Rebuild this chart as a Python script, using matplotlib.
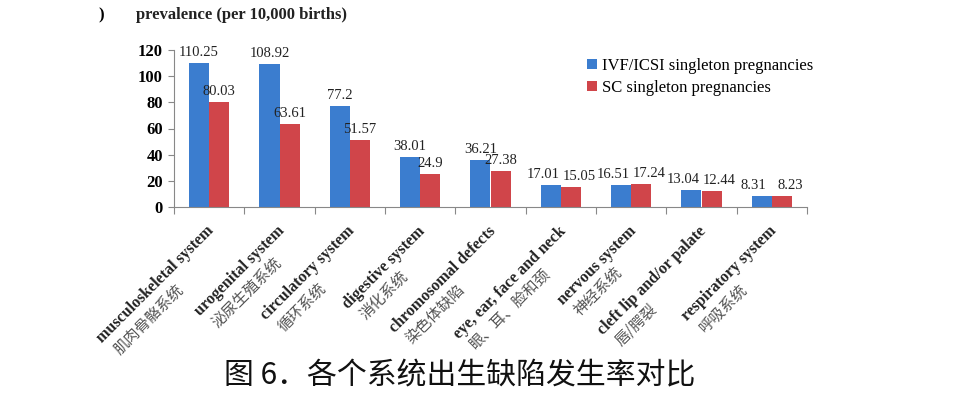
import matplotlib
matplotlib.use('Agg')
import matplotlib.pyplot as plt
import numpy as np

### 数据
cats_en = ['musculoskeletal system', 'urogenital system', 'circulatory system',
           'digestive system', 'chromosomal defects', 'eye, ear, face and neck',
           'nervous system', 'cleft lip and/or palate', 'respiratory system']
cats_cn = ['肌肉骨骼系统', '泌尿生殖系统', '循环系统', '消化系统', '染色体缺陷',
           '眼、耳、脸和颈', '神经系统', '唇/腭裂', '呼吸系统']
ivf = [110.25, 108.92, 77.2, 38.01, 36.21, 17.01, 16.51, 13.04, 8.31]
sc = [80.03, 63.61, 51.57, 24.9, 27.38, 15.05, 17.24, 12.44, 8.23]
ivf_lbl = ['110.25', '108.92', '77.2', '38.01', '36.21', '17.01', '16.51', '13.04', '8.31']
sc_lbl = ['80.03', '63.61', '51.57', '24.9', '27.38', '15.05', '17.24', '12.44', '8.23']
yticks = [0, 20, 40, 60, 80, 100, 120]

serif = 'Liberation Serif'
cjk = ['Noto Sans CJK SC', 'DejaVu Sans']
blue = '#3b7dcf'
red = '#d0454a'

fig = plt.figure(figsize=(9.58, 3.96), dpi=100)
ax = fig.add_axes([174 / 958, 189 / 396, 633 / 958, 157 / 396])

x = np.arange(len(cats_en))
w = 0.285
ax.bar(x - w / 2, ivf, w, color=blue, label='IVF/ICSI singleton pregnancies')
ax.bar(x + w / 2, sc, w, color=red, label='SC singleton pregnancies')

for i in range(len(x)):                          # 数值标签, 两值接近时向外错开
    dx = 8 if abs(ivf[i] - sc[i]) < 5 else 0
    ax.annotate(ivf_lbl[i], (x[i] - w / 2, ivf[i]), xytext=(-dx, 4), textcoords='offset pixels',
                ha='center', va='bottom', fontsize=10.5, family=serif, color='#222222')
    ax.annotate(sc_lbl[i], (x[i] + w / 2, sc[i]), xytext=(dx, 4), textcoords='offset pixels',
                ha='center', va='bottom', fontsize=10.5, family=serif, color='#222222')

ax.set_xlim(-0.5, len(x) - 0.5)
ax.set_ylim(0, 120)
ax.set_yticks(yticks)
ax.set_yticklabels([str(v) for v in yticks], family=serif, fontsize=12, fontweight='bold')
ax.set_xticks(np.arange(len(x) + 1) - 0.5)
ax.set_xticklabels([])
ax.tick_params(axis='x', length=5, color='#888888', direction='out')
ax.tick_params(axis='y', length=4, color='#888888', direction='out', pad=4)
for s in ['top', 'right']:
    ax.spines[s].set_visible(False)
ax.spines['left'].set_color('#888888')
ax.spines['bottom'].set_color('#888888')

### 斜放的类别标签 (英文 + 中文)
renderer = fig.canvas.get_renderer()
a = np.array([0.7071, 0.7071])
p = np.array([0.7071, -0.7071])
off = np.array([-3, -16])
for i in range(len(x)):
    t = ax.annotate(cats_en[i], (x[i], 0), xytext=tuple(off), textcoords='offset pixels',
                    ha='right', va='top', fontsize=11.5, family=serif, fontweight='bold',
                    color='#222222', rotation=0, rotation_mode='anchor')
    tw = t.get_window_extent(renderer).width
    t.set_rotation(45)
    start = off - tw * a + p * 19 + a * 4
    ax.annotate(cats_cn[i], (x[i], 0), xytext=(start[0], start[1]), textcoords='offset pixels',
                ha='left', va='top', fontsize=11, family=cjk, color='#555555',
                rotation=45, rotation_mode='anchor')

ax.legend(loc='upper left', bbox_to_anchor=(0.629, 1.045), frameon=False,
          prop={'family': serif, 'size': 12}, handlelength=0.6, handleheight=0.6,
          handletextpad=0.3, labelspacing=0.35)

fig.text(136 / 958, 1 - 15 / 396, 'prevalence (per 10,000 births)', family=serif,
         fontsize=12, fontweight='bold', ha='left', va='center', color='#222222')
fig.text(98 / 958, 1 - 15 / 396, ')', family=serif, fontsize=12, fontweight='bold',
         ha='left', va='center')
fig.text(460 / 958, 1 - 376 / 396, '图 6．各个系统出生缺陷发生率对比', family=cjk,
         fontsize=21.5, ha='center', va='center', color='#111111')

fig.savefig('out.png', dpi=100)
